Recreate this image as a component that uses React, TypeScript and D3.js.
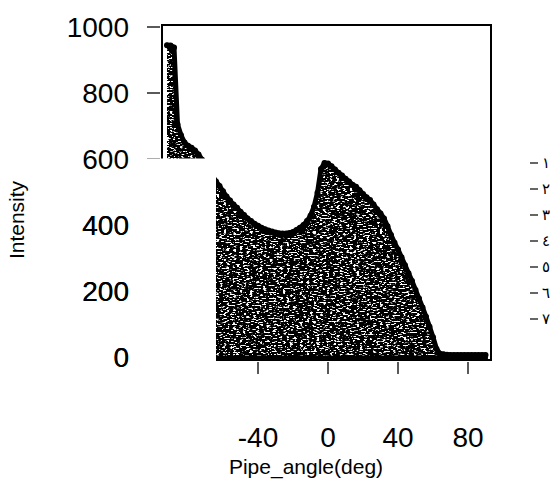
import { useMemo } from "react";
import { scaleLinear, area, line, curveLinear } from "d3";

const width = 553;
const height = 480;

const angles = [
  -92, -90, -88, -86, -84, -82, -80, -78, -76, -74, -72, -70, -68, -66, -64, -62,
  -60, -58, -56, -54, -52, -50, -48, -46, -44, -42, -40, -38, -36, -34, -32, -30,
  -28, -26, -24, -22, -20, -18, -16, -14, -12, -10, -8, -6, -4, -2, 0, 2, 4, 6, 8,
  10, 12, 14, 16, 18, 20, 22, 24, 26, 28, 30, 32, 34, 36, 38, 40, 42, 44, 46, 48,
  50, 52, 54, 56, 58, 60, 62, 64, 66, 68, 70, 72, 74, 76, 78, 80, 82, 84, 86, 88, 90,
];
const intensity = [
  945, 944, 938, 705, 672, 650, 640, 634, 626, 614, 598, 582, 566, 548, 532, 518,
  502, 486, 474, 462, 452, 440, 430, 420, 412, 404, 398, 392, 387, 383, 380, 377,
  375, 374, 374, 376, 379, 385, 392, 400, 412, 428, 455, 498, 570, 588, 586, 578,
  568, 558, 550, 540, 532, 522, 516, 505, 494, 484, 476, 462, 448, 435, 420, 396,
  370, 346, 326, 302, 278, 254, 230, 203, 177, 150, 122, 92, 60, 24, 10, 8, 7, 6,
  6, 6, 6, 6, 6, 6, 6, 6, 6, 6,
];

const yTicks = [0, 200, 400, 600, 800, 1000];
const xTicks = [-40, 0, 40, 80];
const sideLabels = ["١", "٢", "٣", "٤", "٥", "٦", "٧"];

const box = { left: 162, right: 491, top: 25, bottom: 360 };

const x = scaleLinear().domain([-94.86, 93.14]).range([box.left, box.right]);
const y = scaleLinear().domain([0, 1000]).range([357, 27]);

const font = "'Liberation Sans', Arial, sans-serif";

const App = () => {
  const data = useMemo(() => angles.map((a, i) => ({ a, v: intensity[i] })), []);

  const fillPath = area<{ a: number; v: number }>()
    .x((d) => x(d.a))
    .y0(box.bottom)
    .y1((d) => y(d.v))
    .curve(curveLinear)(data);

  const topLine = line<{ a: number; v: number }>()
    .x((d) => x(d.a))
    .y((d) => y(d.v))(data);

  return (
    <svg
      width={width}
      height={height}
      style={{ position: "absolute", left: 0, top: 0, background: "#fff" }}
    >
      <defs>
        <filter id="speck" x="0" y="0" width="100%" height="100%">
          <feTurbulence type="fractalNoise" baseFrequency="0.3 0.7" numOctaves="2" seed="11" result="n" />
          <feColorMatrix
            in="n"
            type="matrix"
            values="0 0 0 0 1  0 0 0 0 1  0 0 0 0 1  12 0 0 0 -6.7"
            result="w"
          />
          <feComposite in="w" in2="SourceGraphic" operator="in" />
        </filter>
      </defs>

      {/* data: filled histogram with speckled scan texture */}
      <path d={fillPath ?? ""} fill="#000" />
      <path d={fillPath ?? ""} fill="#000" filter="url(#speck)" transform="translate(0,4)" />
      <path d={topLine ?? ""} fill="none" stroke="#000" strokeWidth={5} strokeLinejoin="round" strokeLinecap="round" />
      {data.map((d, i) => (
        <circle key={i} cx={x(d.a)} cy={y(d.v)} r={3} fill="#000" />
      ))}
      <line x1={x(angles[0])} x2={x(angles[angles.length - 1])} y1={box.bottom - 2} y2={box.bottom - 2} stroke="#000" strokeWidth={5} strokeLinecap="round" />

      {/* frame */}
      <rect
        x={box.left}
        y={box.top}
        width={box.right - box.left}
        height={box.bottom - box.top}
        fill="none"
        stroke="#000"
        strokeWidth={2}
      />

      {/* y axis */}
      {yTicks.map((t) => (
        <g key={t}>
          <line x1={147} x2={160} y1={y(t)} y2={y(t)} stroke="#000" strokeWidth={1.3} />
          <text
            x={129}
            y={y(t)}
            textAnchor="end"
            dominantBaseline="central"
            fontFamily={font}
            fontSize={28}
            fill="#000"
          >
            {t}
          </text>
        </g>
      ))}

      {/* x axis */}
      {xTicks.map((t) => (
        <g key={t}>
          <line x1={x(t)} x2={x(t)} y1={box.bottom + 2} y2={box.bottom + 14} stroke="#000" strokeWidth={1.3} />
          <text
            x={x(t)}
            y={437}
            textAnchor="middle"
            dominantBaseline="central"
            fontFamily={font}
            fontSize={28}
            fill="#000"
          >
            {t}
          </text>
        </g>
      ))}

      {/* blank patch from the scan covering the lower left corner */}
      <rect x={138} y={158.5} width={78} height={210} fill="#fff" />
      {/* the tick labels sit on top of the patch */}
      {yTicks.filter((t) => t < 600).map((t) => (
        <text
          key={t}
          x={129}
          y={y(t)}
          textAnchor="end"
          dominantBaseline="central"
          fontFamily={font}
          fontSize={28}
          fill="#000"
        >
          {t}
        </text>
      ))}

      <text
        x={306}
        y={466}
        textAnchor="middle"
        dominantBaseline="central"
        fontFamily={font}
        fontSize={21}
        fill="#000"
      >
        Pipe_angle(deg)
      </text>
      <text
        transform="translate(16,220) rotate(-90)"
        textAnchor="middle"
        dominantBaseline="central"
        fontFamily={font}
        fontSize={21}
        fill="#000"
      >
        Intensity
      </text>

      {/* stray labels at the right edge */}
      {sideLabels.map((s, i) => (
        <g key={s}>
          <line x1={530} x2={538} y1={163 + i * 26} y2={163 + i * 26} stroke="#000" strokeWidth={1.2} />
          <text
            x={542}
            y={163 + i * 26}
            dominantBaseline="central"
            fontFamily="'DejaVu Sans', sans-serif"
            fontSize={15}
            fill="#000"
          >
            {s}
          </text>
        </g>
      ))}
    </svg>
  );
};

export default App;
